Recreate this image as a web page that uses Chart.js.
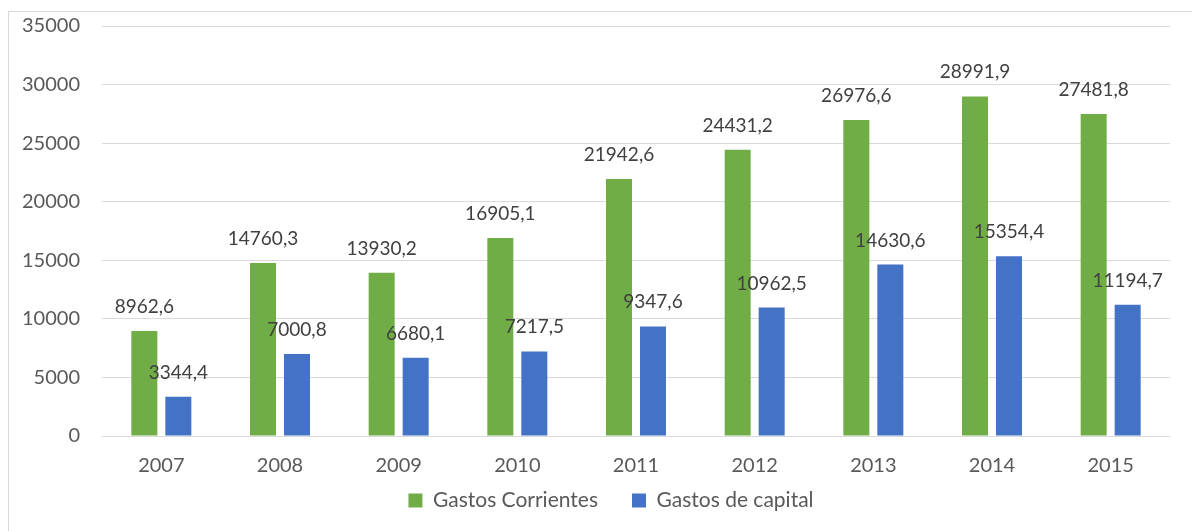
<!DOCTYPE html>
<html>
<head>
<meta charset="utf-8">
<script src="https://cdn.jsdelivr.net/npm/chart.js@4/dist/chart.umd.min.js"></script>
<style>
	html, body { margin: 0; padding: 0; background: #fff; }
	#wrap { width: 1192px; height: 531px; position: relative; }
</style>
</head>
<body>
<div id="wrap"><canvas id="gastosChart" width="1192" height="531"></canvas></div>
<script>
const years = ['2007', '2008', '2009', '2010', '2011', '2012', '2013', '2014', '2015'];
const gastosCorrientes = [8962.6, 14760.3, 13930.2, 16905.1, 21942.6, 24431.2, 26976.6, 28991.9, 27481.8];
const gastosCapital = [3344.4, 7000.8, 6680.1, 7217.5, 9347.6, 10962.5, 14630.6, 15354.4, 11194.7];

const fontFamily = 'Lato, "Open Sans", sans-serif';

// frame around the chart + legend placement tweaks
const framePlugin = {
	id: 'frame',
	afterInit(chart) {
		// wide gaps between legend items, but a short legend box
		const legend = chart.legend;
		if (legend) {
			const origFit = legend.fit;
			legend.fit = function () {
				origFit.call(this);
				this.height = 50;
			};
		}
	},
	afterLayout(chart) {
		const legend = chart.legend;
		if (legend) {
			legend.top = chart.chartArea.bottom + 20;
			legend.bottom = chart.height;
			legend.height = legend.bottom - legend.top;
			legend.left = 40;
			legend.right = chart.width - 10;
			legend.width = legend.right - legend.left;
		}
	},
	beforeDraw(chart) {
		const ctx = chart.ctx;
		ctx.save();
		ctx.strokeStyle = '#d9d9d9';
		ctx.lineWidth = 1;
		ctx.strokeRect(8.5, 11.5, 1400, 1400);
		ctx.restore();
	}
};

// value labels above each bar, comma as decimal separator
const valueLabels = {
	id: 'valueLabels',
	afterDatasetsDraw(chart) {
		const ctx = chart.ctx;
		ctx.save();
		ctx.font = '19px ' + fontFamily;
		ctx.fillStyle = '#404040';
		ctx.textAlign = 'center';
		ctx.textBaseline = 'alphabetic';
		chart.data.datasets.forEach((ds, i) => {
			chart.getDatasetMeta(i).data.forEach((bar, j) => {
				const txt = ds.data[j].toFixed(1).replace('.', ',');
				ctx.fillText(txt, bar.x, bar.y - 18);
			});
		});
		ctx.restore();
	}
};

new Chart(document.getElementById('gastosChart'), {
	type: 'bar',
	data: {
		labels: years,
		datasets: [{
			label: 'Gastos Corrientes',
			data: gastosCorrientes,
			backgroundColor: '#70ad47',
			categoryPercentage: 0.573,
			barPercentage: 0.765
		}, {
			label: 'Gastos de capital',
			data: gastosCapital,
			backgroundColor: '#4472c4',
			categoryPercentage: 0.573,
			barPercentage: 0.765
		}]
	},
	options: {
		responsive: false,
		animation: false,
		layout: { padding: { left: 0, right: 22, top: 26, bottom: 0 } },
		scales: {
			y: {
				min: 0,
				max: 35000,
				ticks: {
					stepSize: 5000,
					color: '#595959',
					font: { family: fontFamily, size: 20 },
					padding: 22,
					callback: (v) => String(v)
				},
				grid: { color: '#d9d9d9', drawTicks: false },
				border: { display: false },
				afterFit(scale) {
					scale.width = 102;
					scale.paddingTop = 0;
					scale.paddingBottom = 0;
				}
			},
			x: {
				ticks: {
					color: '#595959',
					font: { family: fontFamily, size: 20 },
					padding: 18
				},
				grid: { display: false, drawTicks: false, tickLength: 0 },
				border: { display: false },
				afterFit(scale) { scale.height = 45; }
			}
		},
		plugins: {
			legend: {
				position: 'bottom',
				labels: {
					boxWidth: 14,
					boxHeight: 14,
					color: '#595959',
					font: { family: fontFamily, size: 21 },
					padding: 34
				}
			},
			tooltip: { enabled: false }
		}
	},
	plugins: [framePlugin, valueLabels]
});
</script>
</body>
</html>
